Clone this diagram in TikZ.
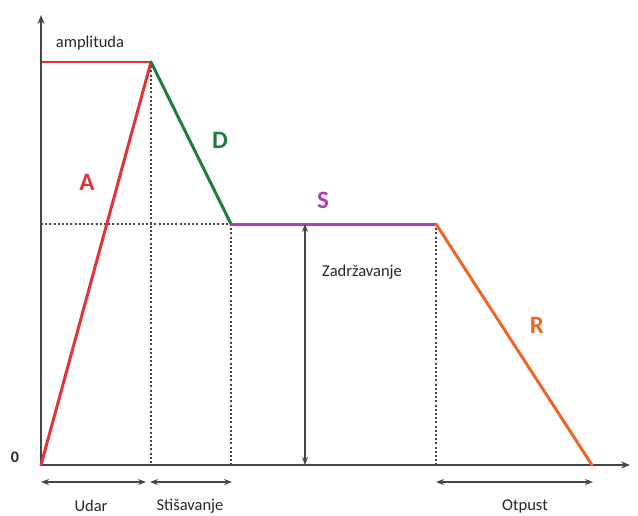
\documentclass[tikz,border=0pt]{standalone}
\usepackage{fontspec}
\setmainfont{Carlito}
\usetikzlibrary{arrows.meta}
\definecolor{cA}{RGB}{228,50,55}
\definecolor{cD}{RGB}{30,125,60}
\definecolor{cS}{RGB}{180,60,180}
\definecolor{cR}{RGB}{240,100,40}
\definecolor{axisc}{RGB}{70,70,70}
\begin{document}
\begin{tikzpicture}[x=1pt,y=-1pt,
  axis/.style={draw=axisc,line width=1.6pt,-{Stealth[length=9pt,width=7pt]}},
  guide/.style={draw=axisc,line width=1.3pt,dash pattern=on 2pt off 2.2pt},
  dim/.style={draw=axisc,line width=1.3pt,{Stealth[length=8pt,width=6pt]}-{Stealth[length=8pt,width=6pt]}},
  seg/.style={line width=3pt,line cap=round,line join=round},
  lbl/.style={font=\fontsize{16.5}{18}\selectfont,text=black!85,inner sep=0pt},
  big/.style={font=\fontsize{25}{27}\selectfont\bfseries,inner sep=0pt}]
\useasboundingbox (0,0) rectangle (638,515);
\coordinate (O) at (41,465);
\coordinate (ytop) at (41,15);
\coordinate (xend) at (630,465);
\coordinate (amp) at (41,62);
\coordinate (P1) at (151,62);
\coordinate (P2) at (231,224);
\coordinate (P3) at (436,224);
\coordinate (P4) at (592,465);
\coordinate (sl) at (41,224);
\coordinate (b1) at (151,465);
\coordinate (b2) at (231,465);
\coordinate (b3) at (436,465);
\coordinate (z1) at (305,224);
\coordinate (z2) at (305,465);
\coordinate (u1) at (41,482);
\coordinate (u2) at (146,482);
\coordinate (s1) at (150,482);
\coordinate (s2) at (232,482);
\coordinate (r1) at (436,482);
\coordinate (r2) at (593,482);
% guides
\draw[guide] (P1) -- (b1);
\draw[guide] (P2) -- (b2);
\draw[guide] (P3) -- (b3);
\draw[guide] (sl) -- (P2);
\draw[draw=cA,line width=1.2pt] (amp) -- (P1);
% axes
\draw[axis] (O) -- (ytop);
\draw[axis] (O) -- (xend);
% envelope
\draw[seg,cA] (O) -- (P1);
\draw[seg,cD] (P1) -- (P2);
\draw[seg,cS] (P2) -- (P3);
\draw[seg,cR] (P3) -- (P4);
% dims
\draw[dim] (z1) -- (z2);
\draw[dim] (u1) -- (u2);
\draw[dim] (s1) -- (s2);
\draw[dim] (r1) -- (r2);
% labels
\node[lbl] (tamp) at (90,43) {amplituda};
\node[lbl,font=\fontsize{16}{18}\selectfont\bfseries] (t0) at (15,457) {0};
\node[big,cA] (tA) at (87,182) {A};
\node[big,cD] (tD) at (220,140) {D};
\node[big,cS] (tS) at (323,200) {S};
\node[big,cR] (tR) at (537,325) {R};
\node[lbl] (tz) at (362,272) {Zadržavanje};
\node[lbl] (tu) at (91,506) {Udar};
\node[lbl] (ts) at (190,506) {Stišavanje};
\node[lbl] (to) at (525,506) {Otpust};
\end{tikzpicture}
\end{document}
